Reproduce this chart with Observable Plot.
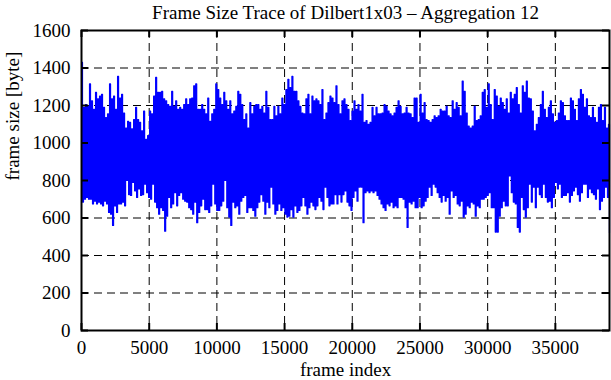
<!DOCTYPE html>
<html><head><meta charset="utf-8">
<script src="https://cdn.jsdelivr.net/npm/d3@7"></script>
<script src="https://cdn.jsdelivr.net/npm/@observablehq/plot@0.6"></script>
<style>body{margin:0;background:#fff}</style>
</head><body><div id="chart"></div>
<script>
// Upper and lower envelope of the trace (bytes), read every ~148 frames
const upperEnvelope = [
1430,1190,1205,1195,1315,1225,1180,1270,1235,1250,1260,1190,1135,1155,1315,1235,1250,1180,1355,1240,1260,1160,1080,1115,1110,1075,1125,1190,1125,1110,1065,1170,1020,1040,1170,1155,1250,1350,1270,1270,1275,1235,1225,
1205,1195,1275,1195,1225,1180,1190,1180,1205,1235,1205,1235,1240,1305,1315,1180,1180,1205,1180,1155,1240,1115,1155,1180,1315,1285,1240,1205,1270,1225,1180,1225,1155,1170,1195,1275,1260,1205,1125,1155,1080,1215,1155,1195,1205,
1205,1180,1195,1160,1275,1190,1125,1125,1195,1145,1195,1155,1240,1205,1285,1340,1295,1355,1275,1275,1225,1195,1160,1155,1235,1260,1155,1250,1225,1235,1225,1205,1285,1125,1160,1215,1250,1240,1215,1305,1205,1155,1225,1235,1205,
1180,1120,1170,1225,1180,1205,1170,1260,1110,1120,1100,1110,1190,1145,1190,1155,1155,1160,1205,1195,1170,1155,1145,1160,1190,1225,1195,1155,1160,1190,1160,1155,1135,1240,1240,1110,1260,1160,1215,1125,1120,1110,1125,1145,1135,
1145,1180,1170,1170,1195,1145,1135,1225,1180,1215,1190,1145,1330,1275,1160,1090,1080,1090,1195,1120,1125,1145,1270,1285,1190,1315,1205,1125,1285,1250,1195,1240,1215,1180,1235,1160,1270,1235,1260,1295,1205,1160,1305,1270,1330,
1240,1235,1170,1065,1100,1135,1205,1275,1180,1135,1190,1225,1155,1110,1120,1160,1225,1215,1145,1120,1120,1240,1225,1180,1120,1235,1285,1260,1190,1235,1145,1135,1190,1135,1110,1190,1205,1120,1190,1080,1100
];
const lowerEnvelope = [
685,700,710,700,700,675,690,675,685,675,665,690,675,630,620,560,665,630,675,675,685,665,800,725,720,790,745,710,755,720,725,780,735,710,700,780,685,655,620,655,640,530,610,
710,655,675,735,665,720,735,700,690,685,655,645,620,685,575,630,665,700,645,645,630,665,780,675,640,640,665,690,800,655,605,560,685,655,665,620,690,710,720,630,655,655,640,610,655,
685,725,690,620,685,655,765,675,620,640,675,640,655,620,605,610,645,605,665,630,640,665,710,665,620,655,685,665,645,665,710,690,645,765,710,665,675,675,725,675,725,685,725,745,685,
665,640,710,745,690,765,765,575,735,745,735,745,735,745,720,700,675,655,640,675,665,685,655,665,655,710,710,700,655,550,685,675,690,655,655,710,655,665,690,710,765,720,780,765,735,
710,685,720,690,710,620,745,710,720,675,665,690,605,620,665,655,685,675,610,665,655,700,700,710,720,735,655,655,525,525,610,655,690,665,665,825,735,685,675,550,525,710,645,605,655,
780,685,765,655,765,725,710,780,710,685,690,655,710,790,755,780,710,720,720,735,685,720,745,765,725,690,735,780,780,710,755,735,725,700,755,645,690,710,765,710,520
];
const FRAME_STEP = 148;
const xTicks = [0, 5000, 10000, 15000, 20000, 25000, 30000, 35000];
const yTicks = [0, 200, 400, 600, 800, 1000, 1200, 1400, 1600];
const titleText = "Frame Size Trace of Dilbert1x03 \u2013 Aggregation 12";
const xLabel = "frame index";
const yLabel = "frame size [byte]";

const trace = [];
upperEnvelope.forEach((v, i) => {
  trace.push({frame: i * FRAME_STEP, size: v});
  trace.push({frame: i * FRAME_STEP + FRAME_STEP / 2, size: lowerEnvelope[i]});
});

const W = 611, H = 380, mL = 81, mR = 2, mT = 30, mB = 50;
const pw = W - mL - mR, ph = H - mT - mB;
const font = "'Liberation Serif', 'DejaVu Serif', serif";
const FS = 19;
const grid = {stroke: "#000", strokeOpacity: 1, strokeWidth: 1, strokeDasharray: "8,5"};
const tk = {stroke: "#000", strokeWidth: 2};

const chart = Plot.plot({
  width: W, height: H,
  marginLeft: mL, marginRight: mR, marginTop: mT, marginBottom: mB,
  style: {fontFamily: font, fontSize: FS + "px", background: "#fff", color: "#000"},
  x: {domain: [0, 39000], label: null},
  y: {domain: [0, 1600], label: null},
  marks: [
    Plot.gridX(xTicks, grid),
    Plot.gridY(yTicks, grid),
    Plot.line(trace, {x: "frame", y: "size", stroke: "#0000ff", strokeWidth: 1.2, curve: "step-after"}),
    Plot.tickY(yTicks, {y: d => d, insetRight: pw - 7, ...tk}),
    Plot.tickY(yTicks, {y: d => d, insetLeft: pw - 7, ...tk}),
    Plot.tickX(xTicks, {x: d => d, insetTop: ph - 7, ...tk}),
    Plot.tickX(xTicks, {x: d => d, insetBottom: ph - 7, ...tk}),
    Plot.frame({stroke: "#000", strokeWidth: 2}),
    Plot.axisX(xTicks, {tickSize: 0, tickPadding: 10, fontSize: FS, label: null, tickFormat: d => String(d)}),
    Plot.axisY(yTicks, {tickSize: 0, tickPadding: 11, fontSize: FS, label: null, tickFormat: d => String(d)}),
    Plot.text([titleText], {text: d => d, frameAnchor: "top", lineAnchor: "middle", dy: -18, fontSize: FS}),
    Plot.text([xLabel], {text: d => d, frameAnchor: "bottom", lineAnchor: "middle", dy: 39, fontSize: FS}),
    Plot.text([yLabel], {text: d => d, frameAnchor: "left", lineAnchor: "middle", dx: -69, rotate: -90, fontSize: FS})
  ]
});
document.getElementById("chart").appendChild(chart);
</script>
</body></html>
